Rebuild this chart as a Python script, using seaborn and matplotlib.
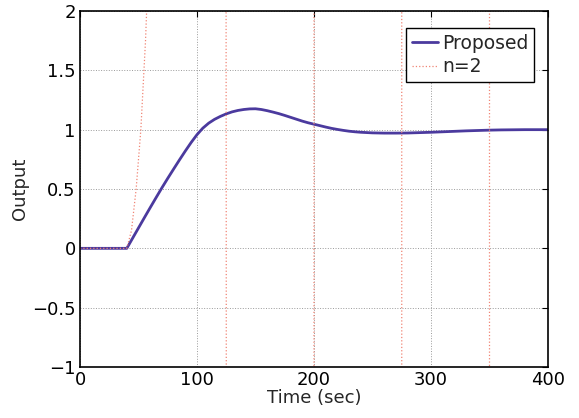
import matplotlib
matplotlib.use("Agg")
import matplotlib.pyplot as plt
import numpy as np
import pandas as pd
import seaborn as sns

# Proposed controller step response
t_prop = [0, 40, 45, 50, 55, 60, 65, 70, 75, 80, 85, 90, 95, 100, 105, 110,
          115, 120, 125, 130, 135, 140, 145, 150, 155, 160, 165, 170, 175,
          180, 185, 190, 195, 200, 205, 210, 215, 220, 225, 230, 235, 240,
          250, 260, 270, 280, 290, 300, 310, 320, 330, 340, 350, 360, 370,
          380, 390, 400]
y_prop = [0, 0, 0.086, 0.172, 0.258, 0.343, 0.427, 0.510, 0.590, 0.668,
          0.745, 0.820, 0.892, 0.958, 1.013, 1.055, 1.087, 1.112, 1.133,
          1.150, 1.162, 1.170, 1.175, 1.176, 1.170, 1.160, 1.148, 1.135,
          1.120, 1.104, 1.088, 1.072, 1.058, 1.046, 1.034, 1.022, 1.011,
          1.002, 0.994, 0.987, 0.982, 0.978, 0.973, 0.971, 0.971, 0.972,
          0.975, 0.978, 0.982, 0.986, 0.990, 0.993, 0.996, 0.998, 0.999,
          1.0, 1.0, 1.0]

# n=2 response: unstable, growing oscillation (off-scale peaks estimated)
t_n2 = [0, 40, 44, 48, 52, 56, 60, 90, 125, 162, 200, 237, 275, 312, 350,
        387, 400]
y_n2 = [0, 0, 0.15, 0.5, 1.0, 1.75, 2.8, 500, 0, -2000, 0, 8000, 0,
        -30000, 0, 100000, 80000]

xticks = [0, 100, 200, 300, 400]
yticks = [-1, -0.5, 0, 0.5, 1, 1.5, 2]
ytick_labels = ["\u22121", "\u22120.5", "0", "0.5", "1", "1.5", "2"]

sns.set_style("white")
plt.rcParams["font.family"] = ["DejaVu Sans"]

fig = plt.figure(figsize=(5.79, 4.18), dpi=100)
ax = fig.add_axes([80 / 579, 1 - 367 / 418, 468 / 579, 356 / 418])

df_p = pd.DataFrame({"t": t_prop, "y": y_prop})
df_n = pd.DataFrame({"t": t_n2, "y": y_n2})
sns.lineplot(data=df_p, x="t", y="y", ax=ax, color="#4b3a9e", lw=2,
             label="Proposed")
sns.lineplot(data=df_n, x="t", y="y", ax=ax, color="#f08474", lw=0.9,
             linestyle=":", label="n=2")

ax.set_xlim(0, 400)
ax.set_ylim(-1, 2)
ax.set_xticks(xticks)
ax.set_xticklabels([str(v) for v in xticks])
ax.set_yticks(yticks)
ax.set_yticklabels(ytick_labels)
ax.grid(True, linestyle=":", color="#9a9a9a", lw=0.7)
ax.tick_params(direction="in", top=True, right=True, length=4, width=0.8,
               labelsize=13, pad=3, colors="black")
for s in ax.spines.values():
    s.set_color("black")
    s.set_linewidth(1.2)
    s.set_visible(True)

ax.set_xlabel("Time (sec)", fontsize=13, labelpad=0)
ax.set_ylabel("Output", fontsize=13, labelpad=2)

leg = ax.legend(loc="upper right", bbox_to_anchor=((534 - 80) / 468, (367 - 28) / 356),
                fontsize=13.5, frameon=True, fancybox=False, borderaxespad=0,
                handlelength=1.4, handletextpad=0.2, labelspacing=0.25,
                borderpad=0.3)
leg.get_frame().set_edgecolor("black")
leg.get_frame().set_linewidth(1.0)
leg.get_frame().set_alpha(1)

fig.savefig("out.png", dpi=100)
